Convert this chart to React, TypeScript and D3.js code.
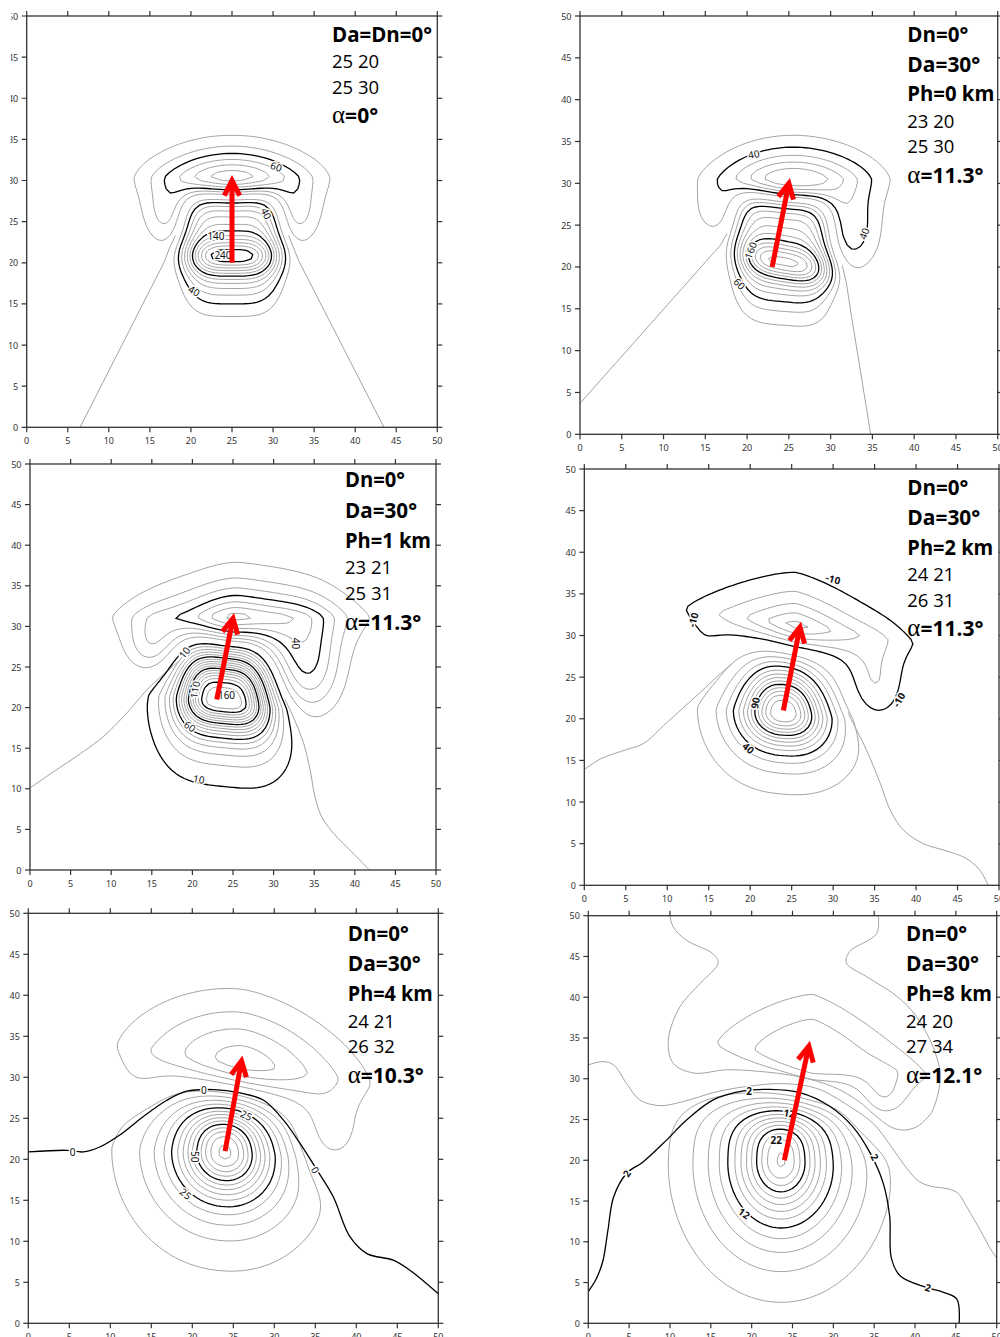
import React from 'react';
import * as d3 from 'd3';

// ---------- data ----------
const xTicks = [0, 5, 10, 15, 20, 25, 30, 35, 40, 45, 50];
const yTicks = [0, 5, 10, 15, 20, 25, 30, 35, 40, 45, 50];

const arrowFrom = [[25, 20], [23, 20], [23, 21], [24, 21], [24, 21], [24, 20]];
const arrowTo = [[25, 30], [25, 30], [25, 31], [26, 31], [26, 32], [27, 34]];
const alphaValues = ['0°', '11.3°', '11.3°', '11.3°', '10.3°', '12.1°'];
const boldHeads = [
  ['Da=Dn=0°'],
  ['Dn=0°', 'Da=30°', 'Ph=0 km'],
  ['Dn=0°', 'Da=30°', 'Ph=1 km'],
  ['Dn=0°', 'Da=30°', 'Ph=2 km'],
  ['Dn=0°', 'Da=30°', 'Ph=4 km'],
  ['Dn=0°', 'Da=30°', 'Ph=8 km'],
];

// contour levels
const levelStep = [20, 20, 10, 10, 5, 2];
const levelMin = [-120, -100, -80, -60, -20, -6];
const levelMax = [260, 240, 170, 140, 75, 28];
const blackLevels = [[-60, 40, 140, 240], [-40, 60, 160], [-40, 10, 60, 110, 160], [-10, 40, 90, 140], [-25, 25, 50, 75], [12, 22]];
const explicitLevels = [[0], [0], [0], [0], [0], [2, 0, -2]];

// anomaly lobes estimated from the rings: positive body, negative cap, side arms of the horseshoe
const lobes1 = [
  { k: 'g', cx: 25, cy: 20.8, a: 115, sxL: 4.3, sxR: 4.3, px: 3, syD: 1.5, syU: 1.5, pyD: 2, pyU: 2 },
  { k: 'g', cx: 25, cy: 21.5, a: 150, sxL: 4.8, sxR: 4.8, px: 4, syD: 4.0, syU: 6.6, pyD: 2, pyU: 6 },
  { k: 'g', cx: 25, cy: 30.3, a: -140, sxL: 6.0, sxR: 6.0, px: 2, syD: 2.8, syU: 2.1, pyD: 1.5, pyU: 1.5 },
  { k: 'g', cx: 16.8, cy: 25.5, a: -30, sxL: 1.8, sxR: 1.8, px: 2, syD: 2.6, syU: 2.6, pyD: 2, pyU: 2 },
  { k: 'g', cx: 33.2, cy: 25.5, a: -30, sxL: 1.8, sxR: 1.8, px: 2, syD: 2.6, syU: 2.6, pyD: 2, pyU: 2 },
];
const lobes2 = [
  { k: 'g', cx: 24.5, cy: 20.5, a: 110, sxL: 4.0, sxR: 4.3, px: 3, syD: 1.5, syU: 1.6, pyD: 2, pyU: 2, shear: -0.2 },
  { k: 'g', cx: 24.3, cy: 21.6, a: 145, sxL: 4.7, sxR: 4.7, px: 4, syD: 4.3, syU: 6.4, pyD: 2, pyU: 6, shear: -0.08 },
  { k: 'g', cx: 25.5, cy: 30.5, a: -125, sxL: 5.8, sxR: 6.0, px: 2, syD: 2.8, syU: 2.2, pyD: 1.5, pyU: 1.5 },
  { k: 'g', cx: 16, cy: 26.5, a: -18, sxL: 1.8, sxR: 1.8, px: 2, syD: 2.2, syU: 2.2, pyD: 2, pyU: 2 },
  { k: 'g', cx: 32.6, cy: 23.8, a: -42, sxL: 2.4, sxR: 2.4, px: 2, syD: 3.3, syU: 3.3, pyD: 2, pyU: 2 },
];
const lobes3 = [
  { k: 'c', q: 1.5, cx: 23.9, cy: 20.7, a: 180, sxL: 5.8, sxR: 5.8, px: 3.5, syD: 4.3, syU: 6.0, pyD: 2, pyU: 3, shear: -0.1, taper: 0.04 },
  { k: 'g', cx: 25.2, cy: 31.2, a: -85, sxL: 6, sxR: 6.6, px: 1.6, syD: 2.5, syU: 2.1, pyD: 1.5, pyU: 1.2 },
  { k: 'g', cx: 15, cy: 27.5, a: -22, sxL: 2.2, sxR: 2.2, px: 2, syD: 2.5, syU: 2.5, pyD: 2, pyU: 2 },
  { k: 'g', cx: 34, cy: 25, a: -40, sxL: 3, sxR: 3, px: 2, syD: 4.5, syU: 4.5, pyD: 2, pyU: 2 },
];
const lobes4 = [
  { k: 'c', q: 1.5, cx: 24, cy: 20.6, a: 140, sxL: 5.4, sxR: 5.4, px: 2.4, syD: 4.4, syU: 5.5, pyD: 2, pyU: 2.5, shear: -0.08, taper: 0.05 },
  { k: 'g', cx: 25.5, cy: 31.3, a: -62, sxL: 5.45, sxR: 5.6, px: 1.45, syD: 2.0, syU: 2.17, pyD: 1.5, pyU: 1.13, shear: -0.15 },
  { k: 'g', cx: 14.5, cy: 28.5, a: -7, sxL: 2, sxR: 2, px: 2, syD: 2.5, syU: 2.5, pyD: 2, pyU: 2 },
  { k: 'g', cx: 34.8, cy: 23.8, a: -22, sxL: 2.6, sxR: 2.6, px: 2, syD: 3.6, syU: 3.6, pyD: 2, pyU: 2 },
];
const lobes5 = [
  { k: 'c', q: 1.5, cx: 24, cy: 20.8, a: 72, sxL: 6.5, sxR: 6.3, px: 2.1, syD: 6.5, syU: 6.2, pyD: 2, pyU: 2.6, shear: -0.05, taper: 0.02 },
  { k: 'g', cx: 26.2, cy: 31.6, a: -28, sxL: 8, sxR: 8, px: 1.75, syD: 3.0, syU: 4.2, pyD: 1.5, pyU: 1.5, shear: -0.15 },
  { k: 'g', cx: 13.5, cy: 29.5, a: -4, sxL: 2.5, sxR: 2.5, px: 2, syD: 2.5, syU: 2.5, pyD: 2, pyU: 2 },
  { k: 'g', cx: 36.5, cy: 22.5, a: -10, sxL: 3, sxR: 3, px: 2, syD: 3.5, syU: 3.5, pyD: 2, pyU: 2 },
];
const lobes6 = [
  { k: 'c', q: 1, cx: 23.6, cy: 19.9, a: 28.5, sxL: 5.6, sxR: 5.6, px: 2, syD: 7.0, syU: 6.2, pyD: 2, pyU: 3.2 },
  { k: 'g', cx: 27.5, cy: 32.5, a: -12, sxL: 8.5, sxR: 10, px: 1.3, syD: 3.5, syU: 4.5, pyD: 1.5, pyU: 1.17, shear: -0.15 },
  { k: 'g', cx: 36, cy: 26.8, a: -5, sxL: 2.5, sxR: 2.5, px: 2, syD: 2.5, syU: 2.5, pyD: 2, pyU: 2 },
];
const lobes = [lobes1, lobes2, lobes3, lobes4, lobes5, lobes6];

// open contour lines that leave the frame
const open1 = [
  { level: 0, smooth: false, pts: [[6.5, 0], [16.7, 20], [17.4, 21.8], [18.1, 23.3]] },
  { level: 0, smooth: false, pts: [[43.5, 0], [33.1, 20.3], [32.5, 21.8], [31.9, 23.3]] },
];
const open2 = [
  { level: 0, smooth: false, pts: [[0, 3.7], [16.8, 22.6], [17.6, 24]] },
  { level: 0, smooth: false, pts: [[31.4, 20.2], [31.9, 18], [32.5, 14.1], [34.8, 0]] },
];
const open3 = [
  { level: 0, smooth: true, pts: [[0, 10.1], [2.9, 12.1], [6.6, 14.6], [9, 16.4], [11.9, 19.3], [14.4, 22.2], [16.8, 24.4], [18.2, 25.6]] },
  { level: 0, smooth: true, pts: [[31.4, 21], [32.4, 18.9], [33.7, 15.6], [34.5, 12.3], [35.1, 9], [35.9, 6.6], [37.4, 4.5], [39.8, 2.05], [41.8, 0]] },
];
const open4 = [
  { level: 0, smooth: true, pts: [[0, 13.9], [2, 15.2], [5.1, 16.3], [7.1, 17], [9.9, 19.5], [13.9, 23.1], [16.5, 25.5], [17.8, 26.6]] },
  { level: 0, smooth: true, pts: [[31.8, 20.8], [32, 20.3], [34, 16.3], [35.7, 12.2], [36.9, 9], [38.5, 6.6], [40.9, 5], [44.1, 4], [46.1, 3.2], [47.7, 1.8], [48.7, 0]] },
];
const open5 = [
  { level: 0, smooth: true, pts: [[0, 20.9], [4.7, 21.1], [6.7, 20.9], [8.7, 21.5], [11.2, 23], [14, 25.2], [16.9, 27.2], [19.3, 28.3], [22.6, 28.5], [25.8, 28.1], [28.7, 27.2], [31.1, 24.8], [33.1, 22], [35.2, 18.7], [37.2, 15.4], [39.2, 10.6], [41.3, 8.5], [44.5, 7.7], [46.5, 6.5], [50, 3.6]] },
];
const open6 = [
  { level: 2, smooth: true, pts: [[0, 3.9], [1, 5.5], [1.8, 7.7], [2.4, 11.4], [3.1, 15.5], [4.7, 18.4], [6.7, 19.8], [9.6, 22.5], [12, 24.9], [15.3, 27.4], [19, 28.5], [22.2, 28.7], [25.9, 28.3], [29.6, 26.6], [32.4, 24.1], [34.5, 20.9], [36.1, 17.2], [36.9, 13.1], [37.1, 8], [38.2, 5.8], [41.4, 4.4], [43.5, 3.8], [45.1, 3.0], [45.4, 0]] },
  { level: 0, smooth: true, pts: [[0, 31.7], [1.8, 32.1], [3.1, 31.7], [4.7, 29.4], [6.3, 27.4], [8.8, 26.7], [11.6, 27.2], [15.7, 28.4], [19.8, 29.1], [23.9, 29.4], [28, 28.8], [32, 26.6], [34.9, 24.5], [37, 21.8], [39, 19], [40.5, 17.4], [42, 16.8], [44, 16.5], [45.2, 16], [46.5, 14], [48, 11.4], [49.2, 9.2], [50, 8]] },
  { level: -2, smooth: true, pts: [[10, 50], [10.4, 48.6], [12, 47], [15.3, 45.3], [15.9, 44.2], [13.7, 41.7], [11.2, 38.8], [9.8, 34.7], [10.4, 31.9], [12.9, 30.7], [17, 31.1], [22, 30.8], [26, 30.2], [30, 29.0], [33, 27.3], [35, 25.6], [37, 24.1], [38.5, 23.7], [40.2, 24.1], [41.5, 25.2], [42.2, 26.2], [43.1, 30.3], [42.2, 33.9], [40.2, 37.6], [37.8, 40.1], [34.1, 42.5], [31.6, 44.2], [32, 45.6], [35.3, 47.8], [35.5, 50]] },
];
const openLines = [open1, open2, open3, open4, open5, open6];
const openBlack = [[], [], [], [], [0], [2]];

// contour labels: text, x, y, rotation
const labels1 = [['60', 30.4, 31.7, 20], ['40', 29.2, 26, 65], ['140', 23.05, 23.3, 0], ['240', 23.9, 21.0, 0], ['40', 20.4, 16.6, 30]];
const labels2 = [['40', 20.8, 33.5, -10], ['40', 34, 24, -70], ['160', 20.4, 22, -70], ['60', 19.1, 18, 45]];
const labels3 = [['10', 19, 26.8, -50], ['40', 32.8, 27.9, 90], ['110', 20.3, 22.2, -80], ['160', 24.2, 21.6, 0], ['60', 19.7, 17.7, 35], ['10', 20.8, 11.2, 10]];
const labels4 = [['-10', 30, 36.8, 15], ['-10', 13.1, 31.9, -75], ['-10', 37.9, 22.3, -60], ['90', 20.6, 21.9, -80], ['40', 19.8, 16.5, 40]];
const labels5 = [['0', 5.4, 20.9, 0], ['0', 21.4, 28.5, 0], ['25', 26.6, 25.4, 25], ['50', 20.3, 20.3, 90], ['25', 19.2, 15.8, 40], ['0', 35, 18.7, 60]];
const labels6 = [['2', 4.7, 18.4, -55], ['2', 19.7, 28.5, 0], ['12', 24.6, 25.8, 10], ['22', 23, 22.5, 0], ['2', 35.1, 20.4, 60], ['12', 19.1, 13.5, 35], ['2', 41.6, 4.4, 15]];
const contourLabels = [labels1, labels2, labels3, labels4, labels5, labels6];
const boldLabels = [false, false, false, true, false, true];

// ---------- layout ----------
const FRAMES = [
  { l: 26.7, r: 437.3, t: 16, b: 427.3 },
  { l: 580, r: 997.7, t: 16, b: 434.3 },
  { l: 30, r: 436, t: 464, b: 870 },
  { l: 584.3, r: 999, t: 469, b: 885.3 },
  { l: 28.3, r: 438.3, t: 913.3, b: 1323.3 },
  { l: 588.3, r: 996.7, t: 915.7, b: 1323.3 },
];
const TILES = [
  '11.5,0 500,0 500,452 8.5,452',
  '500,0 1000,0 1000,456 500,456',
  '0,452 500,452 500,900 0,900',
  '500,456 1000,456 1000,905 500,905',
  '0,900 500,900 500,1337 0,1337',
  '500,905 1000,905 1000,1337 500,1337',
];
const TEXT_X = [332, 907.3, 345, 907.3, 347.7, 906];
const TEXT_Y = [
  [41.7, 68.3, 94.3, 123.3],
  [42.3, 71.7, 100.7, 127.7, 153.3, 182.7],
  [487.3, 517.7, 547.7, 574.3, 600, 630],
  [495, 525, 555, 581, 606.7, 636],
  [940.7, 971, 1001, 1027.7, 1053.3, 1083.3],
  [940.7, 971, 1001, 1027.7, 1053.3, 1082.7],
];
const BOLD_W = [[100], [61, 73, 87], [60, 72, 86], [61, 73, 86], [61, 73, 85], [61, 73, 86]];

const GRID = { lo: -5, hi: 55, h: 0.5 };
const AXIS = '#333';
const GRAY = '#a3a3a3';

function lobeValue(c: any, x: number, y: number) {
  const dx = x - c.cx;
  const dy = y - c.cy;
  const adx = Math.abs(dx);
  const v = dy - (c.shear || 0) * dx;
  let sx = dx < 0 ? c.sxL : c.sxR;
  if (c.taper && v > 0) sx = sx * Math.exp(-c.taper * v);
  const sy = v < 0 ? c.syD : c.syU;
  const py = v < 0 ? c.pyD : c.pyU;
  const r2 = Math.pow(adx / sx, c.px) + Math.pow(Math.abs(v) / sy, py);
  return c.k === 'c' ? c.a * Math.pow(1 + r2, -(c.q || 1.5)) : c.a * Math.exp(-0.5 * r2);
}

function fieldAt(comps: any[], x: number, y: number) {
  let s = 0;
  for (const c of comps) s += lobeValue(c, x, y);
  return s;
}

function Panel({ i }: { i: number }) {
  const f = FRAMES[i];
  const xs = d3.scaleLinear().domain([0, 50]).range([f.l, f.r]);
  const ys = d3.scaleLinear().domain([0, 50]).range([f.b, f.t]);

  const n = Math.round((GRID.hi - GRID.lo) / GRID.h) + 1;
  const vals: number[] = new Array(n * n);
  for (let j = 0; j < n; j++)
    for (let k = 0; k < n; k++) vals[j * n + k] = fieldAt(lobes[i], GRID.lo + k * GRID.h, GRID.lo + j * GRID.h);
  const levels = d3
    .range(levelMin[i], levelMax[i] + levelStep[i] / 2, levelStep[i])
    .map((v) => Math.round(v * 1000) / 1000)
    .filter((v) => !explicitLevels[i].includes(v) && v !== 0);
  const contours = d3.contours().size([n, n]).thresholds(levels)(vals);
  const proj = d3.geoTransform({
    point(x: number, y: number) {
      (this as any).stream.point(xs(GRID.lo + (x - 0.5) * GRID.h), ys(GRID.lo + (y - 0.5) * GRID.h));
    },
  });
  const path = d3.geoPath(proj as any);
  const isBlack = (v: number) => blackLevels[i].some((b) => Math.abs(b - v) < 1e-6);
  const grayC = contours.filter((c) => !isBlack(c.value));
  const blackC = contours.filter((c) => isBlack(c.value));

  const lineSmooth = d3.line<number[]>().x((d) => xs(d[0])).y((d) => ys(d[1])).curve(d3.curveCatmullRom.alpha(0.5));
  const lineStraight = d3.line<number[]>().x((d) => xs(d[0])).y((d) => ys(d[1]));

  const clipId = `plot${i}`;
  const tileId = `tile${i}`;

  const p0 = [xs(arrowFrom[i][0]), ys(arrowFrom[i][1])];
  const p1 = [xs(arrowTo[i][0]), ys(arrowTo[i][1])];
  const L = Math.hypot(p1[0] - p0[0], p1[1] - p0[1]);
  const ux = (p1[0] - p0[0]) / L;
  const uy = (p1[1] - p0[1]) / L;
  const wing = 17;
  const ang = (27 * Math.PI) / 180;
  const rot = (a: number) => [ux * Math.cos(a) - uy * Math.sin(a), ux * Math.sin(a) + uy * Math.cos(a)];
  const w1 = rot(ang);
  const w2 = rot(-ang);
  const head = `M${p1[0] - w1[0] * wing},${p1[1] - w1[1] * wing}L${p1[0]},${p1[1]}L${p1[0] - w2[0] * wing},${p1[1] - w2[1] * wing}`;

  const lines = [
    ...boldHeads[i],
    `${arrowFrom[i][0]} ${arrowFrom[i][1]}`,
    `${arrowTo[i][0]} ${arrowTo[i][1]}`,
  ];
  const nb = boldHeads[i].length;

  return (
    <g clipPath={`url(#${tileId})`}>
      <defs>
        <clipPath id={clipId}>
          <rect x={f.l} y={f.t} width={f.r - f.l} height={f.b - f.t} />
        </clipPath>
      </defs>
      <g clipPath={`url(#${clipId})`}>
        {grayC.map((c, k) => (
          <path key={'g' + k} d={path(c as any) || ''} fill="none" stroke={GRAY} strokeWidth={1} />
        ))}
        {openLines[i]
          .filter((o) => !openBlack[i].includes(o.level))
          .map((o, k) => (
            <path key={'og' + k} d={(o.smooth ? lineSmooth : lineStraight)(o.pts) || ''} fill="none" stroke={GRAY} strokeWidth={1} />
          ))}
        {blackC.map((c, k) => (
          <path key={'b' + k} d={path(c as any) || ''} fill="none" stroke="#000" strokeWidth={1.3} />
        ))}
        {openLines[i]
          .filter((o) => openBlack[i].includes(o.level))
          .map((o, k) => (
            <path key={'ob' + k} d={(o.smooth ? lineSmooth : lineStraight)(o.pts) || ''} fill="none" stroke="#000" strokeWidth={1.3} />
          ))}
        {contourLabels[i].map((lb: any, k) => (
          <text
            key={'l' + k}
            x={xs(lb[1])}
            y={ys(lb[2])}
            transform={`rotate(${lb[3]},${xs(lb[1])},${ys(lb[2])})`}
            textAnchor="middle"
            dominantBaseline="central"
            fontFamily="'Noto Sans', sans-serif"
            fontSize={10}
            fontWeight={boldLabels[i] ? 700 : 400}
            fill="#111"
            stroke="#fff"
            strokeWidth={3}
            paintOrder="stroke"
          >
            {lb[0]}
          </text>
        ))}
      </g>
      <rect x={f.l} y={f.t} width={f.r - f.l} height={f.b - f.t} fill="none" stroke={AXIS} strokeWidth={1.3} />
      {xTicks.map((t) => (
        <g key={'xt' + t}>
          <line x1={xs(t)} x2={xs(t)} y1={f.b} y2={f.b + 5} stroke={AXIS} strokeWidth={1.2} />
          <line x1={xs(t)} x2={xs(t)} y1={f.t} y2={f.t - 5} stroke={AXIS} strokeWidth={1.2} />
          <text x={xs(t)} y={f.b + 16.5} textAnchor="middle" fontFamily="'Noto Sans', sans-serif" fontSize={9} fill="#333">
            {t}
          </text>
        </g>
      ))}
      {yTicks.map((t) => (
        <g key={'yt' + t}>
          <line x1={f.l} x2={f.l - 5} y1={ys(t)} y2={ys(t)} stroke={AXIS} strokeWidth={1.2} />
          <line x1={f.r} x2={f.r + 5} y1={ys(t)} y2={ys(t)} stroke={AXIS} strokeWidth={1.2} />
          <text x={f.l - 8.5} y={ys(t)} textAnchor="end" dominantBaseline="central" fontFamily="'Noto Sans', sans-serif" fontSize={9} fill="#333">
            {t}
          </text>
        </g>
      ))}
      {lines.map((s, k) => (
        <text
          key={'tx' + k}
          x={TEXT_X[i]}
          y={TEXT_Y[i][k]}
          fontFamily="'Open Sans', sans-serif"
          fontSize={k < nb ? 21 : 18.5}
          fontWeight={k < nb ? 700 : 400}
          fill="#000"
          textLength={k < nb ? BOLD_W[i][k] : undefined}
          lengthAdjust={k < nb ? 'spacingAndGlyphs' : undefined}
        >
          {s}
        </text>
      ))}
      <text x={TEXT_X[i]} y={TEXT_Y[i][lines.length]} fill="#000">
        <tspan fontFamily="'Liberation Serif', serif" fontSize={25}>
          α
        </tspan>
        <tspan fontFamily="'Open Sans', sans-serif" fontSize={21} fontWeight={700}>
          ={alphaValues[i]}
        </tspan>
      </text>
      <line x1={p0[0]} y1={p0[1]} x2={p1[0] - ux * 2} y2={p1[1] - uy * 2} stroke="#ff0000" strokeWidth={5} />
      <path d={head} fill="none" stroke="#ff0000" strokeWidth={5} strokeLinejoin="miter" strokeLinecap="butt" />
    </g>
  );
}

export default function App() {
  return (
    <svg width={1000} height={1337} viewBox="0 0 1000 1337" style={{ position: 'absolute', left: 0, top: 0, background: '#fff' }}>
      <defs>
        {TILES.map((p, i) => (
          <clipPath key={i} id={`tile${i}`}>
            <polygon points={p} />
          </clipPath>
        ))}
      </defs>
      <rect x={0} y={0} width={1000} height={1337} fill="#fff" />
      {[0, 1, 2, 3, 4, 5].map((i) => (
        <Panel key={i} i={i} />
      ))}
    </svg>
  );
}
